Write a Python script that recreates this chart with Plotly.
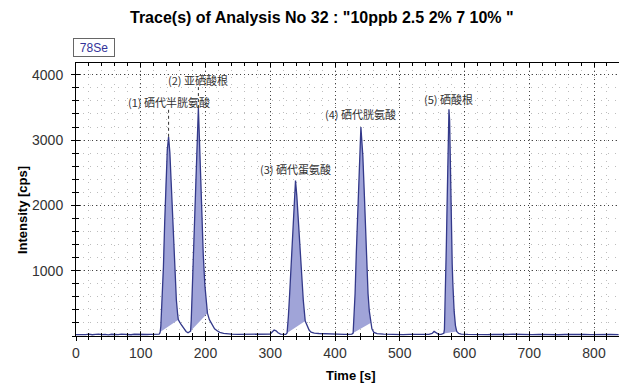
import plotly.graph_objects as go

# ---------------- data ----------------
time_s = [
    0, 5, 10, 15, 20, 25, 30, 35, 40, 45, 50, 55, 60, 65, 70, 75, 80, 85, 90, 95, 100, 105, 110, 115, 120, 125,
    128, 129, 130, 131, 132, 133, 135, 137, 139, 141, 143, 145, 147, 149, 151, 153, 155, 157, 158, 162, 166, 170, 173,
    175, 177, 178, 179, 180, 181, 182, 184, 186, 188, 189, 190, 191.5, 194, 196.5, 199, 201, 203, 206, 210, 214, 218, 222, 228, 235,
    240, 250, 260, 270, 280, 290, 300, 303, 306, 309, 312, 316, 320,
    324, 326, 327, 328, 330, 332, 334, 336, 338, 339, 341, 343, 345, 347, 349, 351, 354, 357, 360, 363, 368, 375, 385, 395,
    405, 415, 420, 424, 426,
    428, 429, 431, 433, 435, 437, 439, 440, 441, 443, 445, 447, 449, 451, 453, 455, 457, 460, 465, 475,
    485, 495, 505, 515, 525, 535, 545, 550, 553, 556, 560,
    564, 566, 568, 569, 570, 571, 572, 573, 574, 575, 576, 577, 578, 579, 580, 581, 582, 583, 584, 586, 588, 591, 595,
    605, 615, 625, 635, 645, 655, 665, 675, 685, 695, 705, 715, 725, 735, 745, 755, 765, 775, 785, 795, 805, 815, 825, 838,
]
intensity_cps = [
    22, 18, 25, 20, 28, 19, 24, 30, 21, 26, 18, 27, 23, 20, 29, 22, 25, 19, 27, 24, 21, 28, 23, 26, 24, 25,
    30, 35, 60, 150, 350, 600, 1050, 1750, 2450, 2850, 3050, 2800, 2350, 1900, 1350, 900, 550, 330, 250, 180, 120, 70, 50,
    60, 75, 250, 550, 900, 1250, 1700, 2200, 2700, 3200, 3490, 3200, 2700, 1780, 1250, 780, 520, 350, 250, 170, 110, 80, 55, 40, 30,
    28, 24, 27, 22, 26, 25, 30, 60, 90, 80, 50, 30, 25,
    25, 45, 150, 300, 650, 1050, 1500, 1950, 2350, 2380, 2150, 1800, 1450, 1100, 800, 550, 230, 150, 90, 60, 45, 38, 32, 28,
    25, 24, 25, 28, 30,
    45, 220, 650, 1300, 1850, 2450, 3100, 3200, 3050, 2750, 2250, 1650, 1050, 650, 380, 200, 110, 55, 35, 28,
    24, 27, 22, 26, 21, 25, 24, 40, 70, 45, 25,
    25, 28, 40, 100, 450, 900, 1400, 1950, 2500, 3050, 3470, 3300, 2600, 1950, 1500, 1100, 800, 550, 380, 160, 70, 40, 30,
    24, 20, 26, 22, 25, 19, 23, 27, 21, 24, 20, 26, 22, 25, 19, 23, 26, 21, 24, 20, 25, 22, 24, 21,
]

# integration windows of the five peaks (s)
peak_start = [130, 177, 326, 428, 568]
peak_end = [158, 203, 354, 455, 588]
peak_labels = ["(1) 硒代半胱氨酸", "(2) 亚硒酸根", "(3) 硒代蛋氨酸", "(4) 硒代胱氨酸", "(5) 硒酸根"]

x_ticks = [0, 100, 200, 300, 400, 500, 600, 700, 800]
y_ticks = [1000, 2000, 3000, 4000]

title_text = 'Trace(s) of Analysis No 32 : "10ppb 2.5 2% 7 10% "'
isotope = "78Se"

# ---------------- styling ----------------
FILL = "#a0a4d8"
LINE = "#33398a"
TXT = "#222222"
BASE_FONT = "Liberation Sans, Arial, sans-serif"
CJK_FONT = "Noto Sans CJK SC, sans-serif"

X_RANGE = [0, 838.6]
Y_RANGE = [0, 4180]

fig = go.Figure()

apex_t, apex_v = [], []
for s, e in zip(peak_start, peak_end):
    xs = [t for t in time_s if s <= t <= e]
    ys = [v for t, v in zip(time_s, intensity_cps) if s <= t <= e]
    k = ys.index(max(ys))
    apex_t.append(xs[k])
    apex_v.append(ys[k])
    fig.add_trace(go.Scatter(
        x=xs + [xs[0]], y=ys + [ys[0]], mode="lines", fill="toself",
        fillcolor=FILL, line=dict(width=0, color=FILL), hoverinfo="skip", showlegend=False))

fig.add_trace(go.Scatter(x=time_s, y=intensity_cps, mode="lines",
                         line=dict(color=LINE, width=1.3), showlegend=False))

# dummy trace to activate the overlay axes (outside tick halves + labels)
fig.add_trace(go.Scatter(x=[x_ticks[0]], y=[0], xaxis="x2", yaxis="y2", mode="markers",
                         marker=dict(opacity=0), hoverinfo="skip", showlegend=False))

grid_major = dict(showgrid=True, gridcolor="#444444", gridwidth=1, griddash="1px,3px")
minor_x = dict(dtick=20, ticks="inside", ticklen=3, tickcolor="black",
               showgrid=True, gridcolor="#bdbdbd", gridwidth=1, griddash="1px,6px")
minor_y = dict(dtick=200, ticks="inside", ticklen=3, tickcolor="black",
               showgrid=True, gridcolor="#bdbdbd", gridwidth=1, griddash="1px,6px")

fig.update_layout(
    width=619, height=383,
    margin=dict(l=76, r=0, t=63, b=47, pad=0),
    paper_bgcolor="white", plot_bgcolor="white",
    font=dict(family=BASE_FONT, color=TXT, size=14),
    showlegend=False,
    xaxis=dict(range=X_RANGE, tickvals=x_ticks, ticks="inside", ticklen=4, tickcolor="black",
               showline=True, linecolor="black", linewidth=1, mirror="ticks",
               showticklabels=False, zeroline=False, minor=minor_x, **grid_major),
    yaxis=dict(range=Y_RANGE, tickvals=y_ticks, ticks="inside", ticklen=4, tickcolor="black",
               showline=True, linecolor="black", linewidth=1, mirror=False,
               showticklabels=False, zeroline=False, minor=minor_y, **grid_major),
    xaxis2=dict(range=X_RANGE, overlaying="x", anchor="y", side="bottom",
                tickvals=x_ticks, ticks="outside", ticklen=4, tickcolor="black",
                showline=False, showgrid=False, zeroline=False,
                tickfont=dict(family=BASE_FONT, size=14, color="#333333"),
                minor=dict(dtick=20, ticks="outside", ticklen=3, tickcolor="black", showgrid=False)),
    yaxis2=dict(range=Y_RANGE, overlaying="y", anchor="x", side="left",
                tickvals=y_ticks, ticks="outside", ticklen=4, tickcolor="black",
                showline=False, showgrid=False, zeroline=False, ticklabelstandoff=5,
                tickfont=dict(family=BASE_FONT, size=14, color="#333333"),
                minor=dict(dtick=200, ticks="outside", ticklen=3, tickcolor="black", showgrid=False)),
)

annotations = [
    dict(text="<b>" + title_text + "</b>", xref="paper", yref="paper", x=0.453, y=1.165,
         xanchor="center", yanchor="middle", showarrow=False,
         font=dict(family=BASE_FONT, size=16, color="black")),
    dict(text=isotope, xref="paper", yref="paper", x=0.0331, y=1.0568,
         xanchor="center", yanchor="middle", showarrow=False,
         font=dict(family=BASE_FONT, size=12, color="#333399"),
         bordercolor="#666666", borderwidth=1, borderpad=2, width=36, height=13,
         bgcolor="white"),
    dict(text="<b>Intensity [cps]</b>", xref="paper", yref="paper", x=-0.0994, y=0.4615,
         xanchor="center", yanchor="middle", textangle=-90, showarrow=False,
         font=dict(family=BASE_FONT, size=13, color="black")),
    dict(text="<b>Time [s]</b>", xref="paper", yref="paper", x=0.5064, y=-0.1465,
         xanchor="center", yanchor="middle", showarrow=False,
         font=dict(family=BASE_FONT, size=13, color="black")),
]
label_shift = [35, 28, 12, 13, 10]
for lab, t, v, sh in zip(peak_labels, apex_t, apex_v, label_shift):
    annotations.append(dict(text=lab, x=t, y=v, xref="x", yref="y", yshift=sh,
                            xanchor="center", yanchor="middle", showarrow=False,
                            font=dict(family=CJK_FONT, size=11, color="#333333")))
fig.update_layout(annotations=annotations)

# dotted leader lines for labels (1) and (2)
leader_px = [29, 22]
shapes = []
for t, v, h in zip(apex_t[:2], apex_v[:2], leader_px):
    shapes.append(dict(type="line", xref="x", yref="y", ysizemode="pixel", yanchor=v,
                       x0=t, x1=t, y0=0, y1=h, line=dict(color="#333333", width=1, dash="dot")))
fig.update_layout(shapes=shapes)

fig.write_html("out.html")
